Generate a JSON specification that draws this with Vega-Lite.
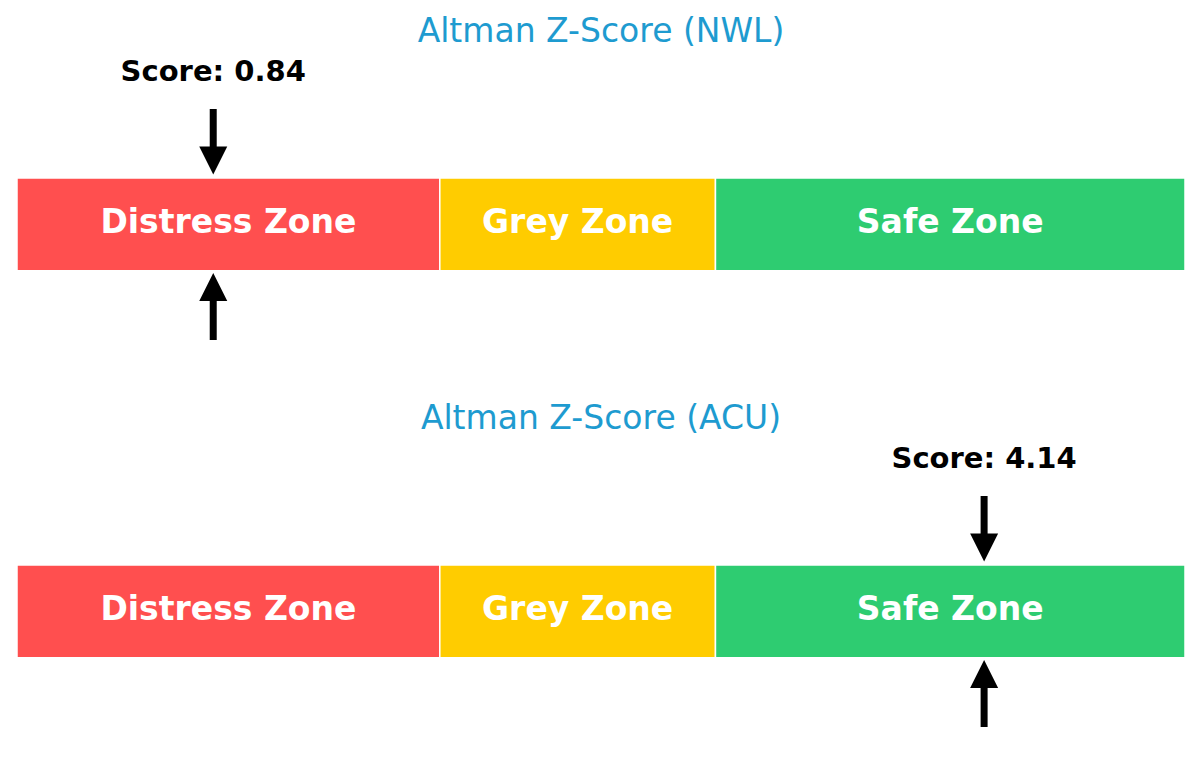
{
  "$schema": "https://vega.github.io/schema/vega-lite/v6.json",
  "background": "white",
  "padding": {"left": 16, "right": 16, "top": 16, "bottom": 0},
  "spacing": 59,
  "config": {
    "view": {"stroke": null},
    "font": "DejaVu Sans",
    "title": {"fontSize": 33, "fontWeight": "normal", "color": "#1e9bd0", "baseline": "alphabetic", "offset": 5, "anchor": "middle", "font": "DejaVu Sans"}
  },
  "datasets": {
    "zones": [
      {"zone": "Distress Zone", "start": 0, "end": 1.81},
      {"zone": "Grey Zone", "start": 1.81, "end": 2.99},
      {"zone": "Safe Zone", "start": 2.99, "end": 5}
    ],
    "scores": [
      {"company": "NWL", "score": 0.84},
      {"company": "ACU", "score": 4.14}
    ]
  },
  "vconcat": [
    {
      "title": "Altman Z-Score (NWL)",
      "width": 1168,
      "height": 290,
      "layer": [
        {
          "data": {"name": "zones"},
          "mark": {"type": "rect", "stroke": "white", "strokeWidth": 1.5},
          "encoding": {
            "x": {"field": "start", "type": "quantitative", "scale": {"domain": [0, 5], "nice": false, "zero": false}, "axis": null},
            "x2": {"field": "end"},
            "y": {"datum": 7.33, "type": "quantitative", "scale": {"domain": [0, 29], "nice": false, "zero": false}, "axis": null},
            "y2": {"datum": 16.6},
            "color": {
              "field": "zone",
              "type": "nominal",
              "scale": {"domain": ["Distress Zone", "Grey Zone", "Safe Zone"], "range": ["#ff4f4f", "#ffcc00", "#2ecc71"]},
              "legend": null
            }
          }
        },
        {
          "data": {"name": "zones"},
          "transform": [{"calculate": "(datum.start + datum.end) / 2", "as": "mid"}],
          "mark": {"type": "text", "fontSize": 33, "fontWeight": "bold", "color": "white", "baseline": "alphabetic", "align": "center"},
          "encoding": {
            "x": {"field": "mid", "type": "quantitative"},
            "y": {"datum": 11.1, "type": "quantitative"},
            "text": {"field": "zone"}
          }
        },
        {
          "data": {"name": "scores"},
          "transform": [{"filter": "datum.company == 'NWL'"}],
          "mark": {"type": "rule", "strokeWidth": 7, "color": "black"},
          "encoding": {
            "x": {"field": "score", "type": "quantitative"},
            "y": {"datum": 19.5, "type": "quantitative"},
            "y2": {"datum": 23.5}
          }
        },
        {
          "data": {"name": "scores"},
          "transform": [{"filter": "datum.company == 'NWL'"}],
          "mark": {"type": "point", "shape": "M-1,-1L1,-1L0,1Z", "size": 784, "filled": true, "color": "black", "opacity": 1, "strokeWidth": 0},
          "encoding": {
            "x": {"field": "score", "type": "quantitative"},
            "y": {"datum": 18.35, "type": "quantitative"}
          }
        },
        {
          "data": {"name": "scores"},
          "transform": [{"filter": "datum.company == 'NWL'"}],
          "mark": {"type": "rule", "strokeWidth": 7, "color": "black"},
          "encoding": {
            "x": {"field": "score", "type": "quantitative"},
            "y": {"datum": 0.4, "type": "quantitative"},
            "y2": {"datum": 5}
          }
        },
        {
          "data": {"name": "scores"},
          "transform": [{"filter": "datum.company == 'NWL'"}],
          "mark": {"type": "point", "shape": "M-1,1L1,1L0,-1Z", "size": 784, "filled": true, "color": "black", "opacity": 1, "strokeWidth": 0},
          "encoding": {
            "x": {"field": "score", "type": "quantitative"},
            "y": {"datum": 5.7, "type": "quantitative"}
          }
        },
        {
          "data": {"name": "scores"},
          "transform": [
            {"filter": "datum.company == 'NWL'"},
            {"calculate": "'Score: ' + format(datum.score, '.2f')", "as": "label"}
          ],
          "mark": {"type": "text", "fontSize": 29, "fontWeight": "bold", "color": "black", "baseline": "alphabetic", "align": "center"},
          "encoding": {
            "x": {"field": "score", "type": "quantitative"},
            "y": {"datum": 26.33, "type": "quantitative"},
            "text": {"field": "label"}
          }
        }
      ]
    },
    {
      "title": "Altman Z-Score (ACU)",
      "width": 1168,
      "height": 290,
      "layer": [
        {
          "data": {"name": "zones"},
          "mark": {"type": "rect", "stroke": "white", "strokeWidth": 1.5},
          "encoding": {
            "x": {"field": "start", "type": "quantitative", "scale": {"domain": [0, 5], "nice": false, "zero": false}, "axis": null},
            "x2": {"field": "end"},
            "y": {"datum": 7.33, "type": "quantitative", "scale": {"domain": [0, 29], "nice": false, "zero": false}, "axis": null},
            "y2": {"datum": 16.6},
            "color": {
              "field": "zone",
              "type": "nominal",
              "scale": {"domain": ["Distress Zone", "Grey Zone", "Safe Zone"], "range": ["#ff4f4f", "#ffcc00", "#2ecc71"]},
              "legend": null
            }
          }
        },
        {
          "data": {"name": "zones"},
          "transform": [{"calculate": "(datum.start + datum.end) / 2", "as": "mid"}],
          "mark": {"type": "text", "fontSize": 33, "fontWeight": "bold", "color": "white", "baseline": "alphabetic", "align": "center"},
          "encoding": {
            "x": {"field": "mid", "type": "quantitative"},
            "y": {"datum": 11.1, "type": "quantitative"},
            "text": {"field": "zone"}
          }
        },
        {
          "data": {"name": "scores"},
          "transform": [{"filter": "datum.company == 'ACU'"}],
          "mark": {"type": "rule", "strokeWidth": 7, "color": "black"},
          "encoding": {
            "x": {"field": "score", "type": "quantitative"},
            "y": {"datum": 19.5, "type": "quantitative"},
            "y2": {"datum": 23.5}
          }
        },
        {
          "data": {"name": "scores"},
          "transform": [{"filter": "datum.company == 'ACU'"}],
          "mark": {"type": "point", "shape": "M-1,-1L1,-1L0,1Z", "size": 784, "filled": true, "color": "black", "opacity": 1, "strokeWidth": 0},
          "encoding": {
            "x": {"field": "score", "type": "quantitative"},
            "y": {"datum": 18.35, "type": "quantitative"}
          }
        },
        {
          "data": {"name": "scores"},
          "transform": [{"filter": "datum.company == 'ACU'"}],
          "mark": {"type": "rule", "strokeWidth": 7, "color": "black"},
          "encoding": {
            "x": {"field": "score", "type": "quantitative"},
            "y": {"datum": 0.4, "type": "quantitative"},
            "y2": {"datum": 5}
          }
        },
        {
          "data": {"name": "scores"},
          "transform": [{"filter": "datum.company == 'ACU'"}],
          "mark": {"type": "point", "shape": "M-1,1L1,1L0,-1Z", "size": 784, "filled": true, "color": "black", "opacity": 1, "strokeWidth": 0},
          "encoding": {
            "x": {"field": "score", "type": "quantitative"},
            "y": {"datum": 5.7, "type": "quantitative"}
          }
        },
        {
          "data": {"name": "scores"},
          "transform": [
            {"filter": "datum.company == 'ACU'"},
            {"calculate": "'Score: ' + format(datum.score, '.2f')", "as": "label"}
          ],
          "mark": {"type": "text", "fontSize": 29, "fontWeight": "bold", "color": "black", "baseline": "alphabetic", "align": "center"},
          "encoding": {
            "x": {"field": "score", "type": "quantitative"},
            "y": {"datum": 26.33, "type": "quantitative"},
            "text": {"field": "label"}
          }
        }
      ]
    }
  ]
}
